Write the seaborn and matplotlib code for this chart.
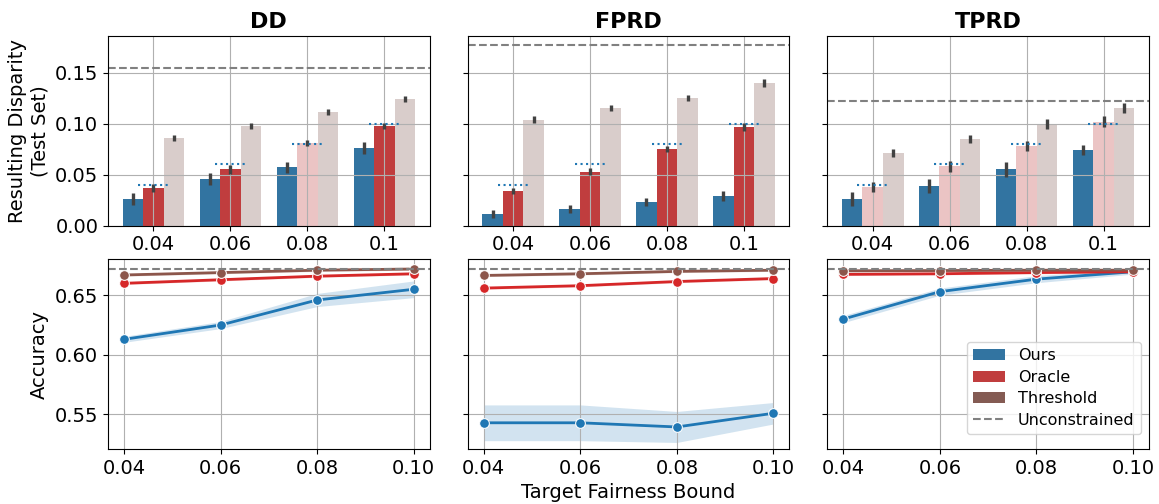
import matplotlib
matplotlib.use("Agg")
from matplotlib import pyplot as plt
from matplotlib.patches import Patch
from matplotlib.lines import Line2D
import numpy as np
import pandas as pd
import seaborn as sns

plt.rcParams["font.size"] = 14

metrics = ["DD", "FPRD", "TPRD"]
bounds = [0.04, 0.06, 0.08, 0.10]
bound_labels = ["0.04", "0.06", "0.08", "0.1"]
methods = ["Ours", "Oracle", "Threshold"]
colors = {"Ours": "tab:blue", "Oracle": "tab:red", "Threshold": "tab:brown"}

# resulting disparity on the test set (bar heights)
dd_ours = [0.026, 0.046, 0.057, 0.076]
dd_oracle = [0.037, 0.055, 0.081, 0.098]
dd_thresh = [0.086, 0.098, 0.111, 0.124]
fprd_ours = [0.011, 0.016, 0.023, 0.029]
fprd_oracle = [0.034, 0.053, 0.075, 0.097]
fprd_thresh = [0.104, 0.115, 0.125, 0.140]
tprd_ours = [0.026, 0.039, 0.055, 0.074]
tprd_oracle = [0.038, 0.058, 0.078, 0.102]
tprd_thresh = [0.071, 0.085, 0.100, 0.115]

# error bar half lengths
dd_err = [[0.006, 0.006, 0.005, 0.006], [0.004, 0.004, 0.003, 0.003], [0.003, 0.003, 0.003, 0.003]]
fprd_err = [[0.004, 0.004, 0.004, 0.005], [0.003, 0.003, 0.003, 0.004], [0.003, 0.003, 0.003, 0.004]]
tprd_err = [[0.007, 0.007, 0.007, 0.005], [0.005, 0.005, 0.005, 0.005], [0.004, 0.004, 0.005, 0.005]]

# bars that go over the bound are drawn faded
dd_faded = [[False] * 4, [False, False, True, False], [True] * 4]
fprd_faded = [[False] * 4, [False] * 4, [True] * 4]
tprd_faded = [[False] * 4, [True] * 4, [True] * 4]

unconstrained_disp = [0.155, 0.177, 0.1225]

# accuracy
acc_dd_ours = [0.613, 0.625, 0.646, 0.655]
acc_dd_oracle = [0.660, 0.663, 0.666, 0.668]
acc_dd_thresh = [0.667, 0.669, 0.671, 0.672]
acc_fprd_ours = [0.543, 0.543, 0.5395, 0.551]
acc_fprd_oracle = [0.656, 0.658, 0.6615, 0.664]
acc_fprd_thresh = [0.6666, 0.668, 0.670, 0.671]
acc_tprd_ours = [0.630, 0.653, 0.6635, 0.6697]
acc_tprd_oracle = [0.6675, 0.668, 0.669, 0.6697]
acc_tprd_thresh = [0.6705, 0.6707, 0.671, 0.671]

acc_dd_ours_ci = [0.0025, 0.003, 0.0055, 0.007]
acc_fprd_ours_ci = [0.015, 0.015, 0.013, 0.009]
acc_tprd_ours_ci = [0.003, 0.003, 0.003, 0.002]
acc_other_ci = [0.001, 0.001, 0.001, 0.001]

unconstrained_acc = 0.672

disp = {
    "DD": (dd_ours, dd_oracle, dd_thresh, dd_err, dd_faded),
    "FPRD": (fprd_ours, fprd_oracle, fprd_thresh, fprd_err, fprd_faded),
    "TPRD": (tprd_ours, tprd_oracle, tprd_thresh, tprd_err, tprd_faded),
}
acc = {
    "DD": (acc_dd_ours, acc_dd_oracle, acc_dd_thresh, acc_dd_ours_ci),
    "FPRD": (acc_fprd_ours, acc_fprd_oracle, acc_fprd_thresh, acc_fprd_ours_ci),
    "TPRD": (acc_tprd_ours, acc_tprd_oracle, acc_tprd_thresh, acc_tprd_ours_ci),
}

fig, axes = plt.subplots(2, 3, figsize=(11.59, 5.04), dpi=100, sharey="row")
fig.subplots_adjust(left=0.0932, right=0.9914, top=0.9286, bottom=0.1091,
                    wspace=0.118, hspace=0.179)

for j, m in enumerate(metrics):
    ours, oracle, thresh, errs, faded = disp[m]
    ax = axes[0, j]
    rows = []
    for meth, vals in zip(methods, [ours, oracle, thresh]):
        for lab, v in zip(bound_labels, vals):
            rows.append({"bound": lab, "method": meth, "value": v})
    df = pd.DataFrame(rows)
    sns.barplot(data=df, x="bound", y="value", hue="method", hue_order=methods,
                order=bound_labels, palette=colors, errorbar=None, legend=False, ax=ax)
    bar_groups = list(ax.containers)
    for k, cont in enumerate(bar_groups):
        xs, ys = [], []
        for i, bar in enumerate(cont.patches):
            if faded[k][i]:
                bar.set_alpha(0.3)
            xs.append(bar.get_x() + bar.get_width() / 2)
            ys.append(bar.get_height())
        ax.errorbar(xs, ys, yerr=errs[k], fmt="none", ecolor=".26", elinewidth=2.4, zorder=3)
    for i, b in enumerate(bounds):
        ax.hlines(b, i - 0.2, i + 0.2, linestyles=":", colors="tab:blue", lw=1.5, zorder=4)
    ax.axhline(unconstrained_disp[j], ls="--", color="gray", lw=1.5)
    ax.set_xlim(-0.59, 3.59)
    ax.set_ylim(0, 0.186)
    ax.grid(True)
    ax.set_xlabel("")
    ax.set_ylabel("")
    ax.set_title(m, fontsize=16, fontweight="bold")

    ax = axes[1, j]
    a_ours, a_oracle, a_thresh, ours_ci = acc[m]
    for meth, vals, ci in zip(methods, [a_ours, a_oracle, a_thresh],
                              [ours_ci, acc_other_ci, acc_other_ci]):
        sns.lineplot(x=bounds, y=vals, marker="o", markersize=7, lw=2,
                     color=colors[meth], ax=ax)
        lo = np.array(vals) - np.array(ci)
        hi = np.array(vals) + np.array(ci)
        ax.fill_between(bounds, lo, hi, color=colors[meth], alpha=0.2, lw=0)
    ax.axhline(unconstrained_acc, ls="--", color="gray", lw=1.5)
    ax.set_xlim(0.0367, 0.1033)
    ax.set_xticks(bounds)
    ax.set_xticklabels(["%.2f" % b for b in bounds])
    ax.set_ylim(0.521, 0.680)
    ax.grid(True)

axes[0, 0].set_ylabel("Resulting Disparity\n(Test Set)")
axes[1, 0].set_ylabel("Accuracy")
axes[1, 1].set_xlabel("Target Fairness Bound")

handles = [Patch(facecolor=sns.desaturate(colors[m], 0.75), label=m) for m in methods]
handles.append(Line2D([], [], ls="--", color="gray", lw=1.5, label="Unconstrained"))
axes[1, 2].legend(handles=handles, loc="lower right", bbox_to_anchor=(1, 0.037),
                  fontsize=11.5, labelspacing=0.4)

plt.savefig("out.png", dpi=100)
